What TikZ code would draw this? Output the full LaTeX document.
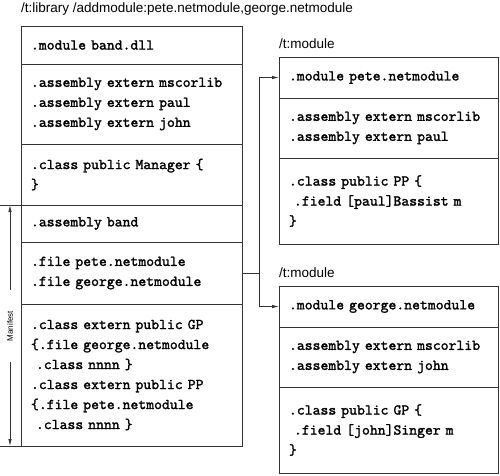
\documentclass[tikz,border=0pt]{standalone}
\usepackage{fontspec}
\setsansfont{Liberation Sans}
\newfontfamily\codefont{lmmono10-regular}[Extension=.otf, FakeBold=1.6, WordSpace={1,0,0}]
\usetikzlibrary{arrows.meta,positioning}

\begin{document}
\begin{tikzpicture}[
  x=1pt, y=-1pt,
  lsect/.style={rectangle, draw=black!80, line width=0.8pt, anchor=north west,
                text width=201pt, inner xsep=10pt, inner ysep=0pt, outer sep=0pt,
                align=left, font=\fontsize{15}{20}\selectfont\codefont},
  rsect/.style={lsect, text width=199pt},
  lbl/.style={font=\fontsize{13.5}{15}\selectfont\sffamily, inner sep=0pt},
  line/.style={draw=black!80, line width=0.8pt},
  arr/.style={line, -{Latex[length=7pt,width=3.5pt]}},
]
\useasboundingbox (0,0) rectangle (500,475);

% library
\node[lbl, anchor=west] (ttl) at (21,9) {/t:library /addmodule:pete.netmodule,george.netmodule};
\node[lsect, minimum height=38pt] (lmod) at (21,26) {.module band.dll};
\node[lsect, minimum height=80pt, below=0pt of lmod] (lext)
  {.assembly extern mscorlib\\.assembly extern paul\\.assembly extern john};
\node[lsect, minimum height=61pt, below=0pt of lext] (lmgr)
  {.class public Manager \{\\\}};
\node[lsect, minimum height=37pt, below=0pt of lmgr] (lasm) {.assembly band};
\node[lsect, minimum height=62pt, below=0pt of lasm] (lfile)
  {.file pete.netmodule\\.file george.netmodule};
\node[lsect, minimum height=142pt, below=0pt of lfile] (lcls)
  {.class extern public GP\\\{.file george.netmodule\\~.class nnnn \}\\
   .class extern public PP\\\{.file pete.netmodule\\~.class nnnn \}};

% pete module
\node[rsect, minimum height=41pt] (rmod1) at (279,57) {.module pete.netmodule};
\node[rsect, minimum height=60pt, below=0pt of rmod1] (rext1)
  {.assembly extern mscorlib\\.assembly extern paul};
\node[rsect, minimum height=86pt, below=0pt of rext1] (rcls1)
  {.class public PP \{\\~.field [paul]Bassist m\\\}};
\node[lbl, above right=8pt and 0pt of rmod1.north west] (mod1) {/t:module};

% george module
\node[rsect, minimum height=41pt] (rmod2) at (279,286) {.module george.netmodule};
\node[rsect, minimum height=60pt, below=0pt of rmod2] (rext2)
  {.assembly extern mscorlib\\.assembly extern john};
\node[rsect, minimum height=86pt, below=0pt of rext2] (rcls2)
  {.class public GP \{\\~.field [john]Singer m\\\}};
\node[lbl, above right=8pt and 0pt of rmod2.north west] (mod2) {/t:module};

% manifest marker
\coordinate (mtl) at (0,205);
\coordinate (mbl) at (0,446);
\coordinate (mtop) at (10,205);
\coordinate (mbot) at (10,446);
\node[font=\fontsize{8}{9}\selectfont\sffamily, rotate=90, inner xsep=21pt, inner ysep=0pt]
  (mlab) at (10,326) {Manifest};
\draw[line] (mtl) -- (lasm.north west);
\draw[line] (mbl) -- (lcls.south west);
\draw[arr] (mlab.east) -- (mtop);
\draw[arr] (mlab.west) -- (mbot);

% file references
\coordinate[right=17pt of lfile.east] (jn);
\draw[line] (lfile.east) -- (jn);
\draw[arr] (jn) |- (rmod1.west);
\draw[arr] (jn) |- (rmod2.west);
\end{tikzpicture}
\end{document}
